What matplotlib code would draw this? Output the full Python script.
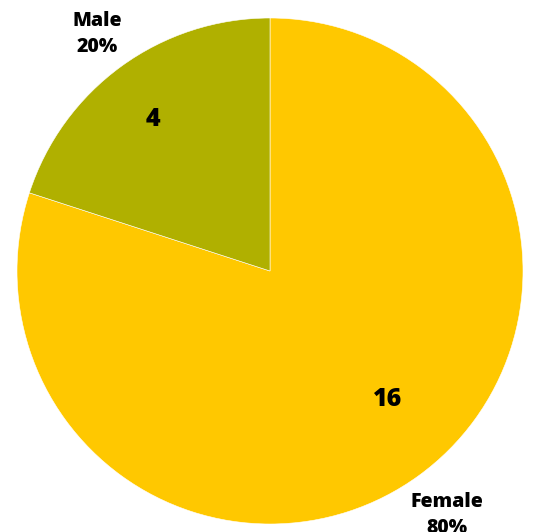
import matplotlib.pyplot as plt

labels = ['Female', 'Male']
values = [16, 4]
colors = ['#FFC800', '#B0B000']
# where the counts are written (data units, origin bottom-left)
value_pos = [(388, 132), (153, 412)]
label_dist = [1.19, 1.16]

total = sum(values)
fig = plt.figure(figsize=(5.33, 5.32), dpi=100)
ax = fig.add_axes([0, 0, 1, 1])

wedges, texts, autotexts = ax.pie(
    values, colors=colors, startangle=90, counterclock=False,
    center=(270, 261), radius=253, frame=True,
    labels=[f'{l}\n{v / total:.0%}' for l, v in zip(labels, values)],
    labeldistance=1.16,
    autopct=lambda p: f'{p * total / 100:.0f}', pctdistance=0.72,
    wedgeprops=dict(edgecolor='white', linewidth=0.4),
    textprops=dict(family='Open Sans', fontweight='heavy', color='black'))
ax.set_xlim(0, 533)
ax.set_ylim(0, 532)
ax.axis('off')

for t, d in zip(texts, label_dist):
    x, y = t.get_position()
    t.set_position((270 + (x - 270) * d / 1.16, 261 + (y - 261) * d / 1.16))
    t.set_fontsize(14)
    t.set_ha('center')
    t.set_va('center')
    t.set_linespacing(1.4)
for t, p in zip(autotexts, value_pos):
    t.set_fontsize(18)
    t.set_position(p)

fig.savefig('out.png', dpi=100)
